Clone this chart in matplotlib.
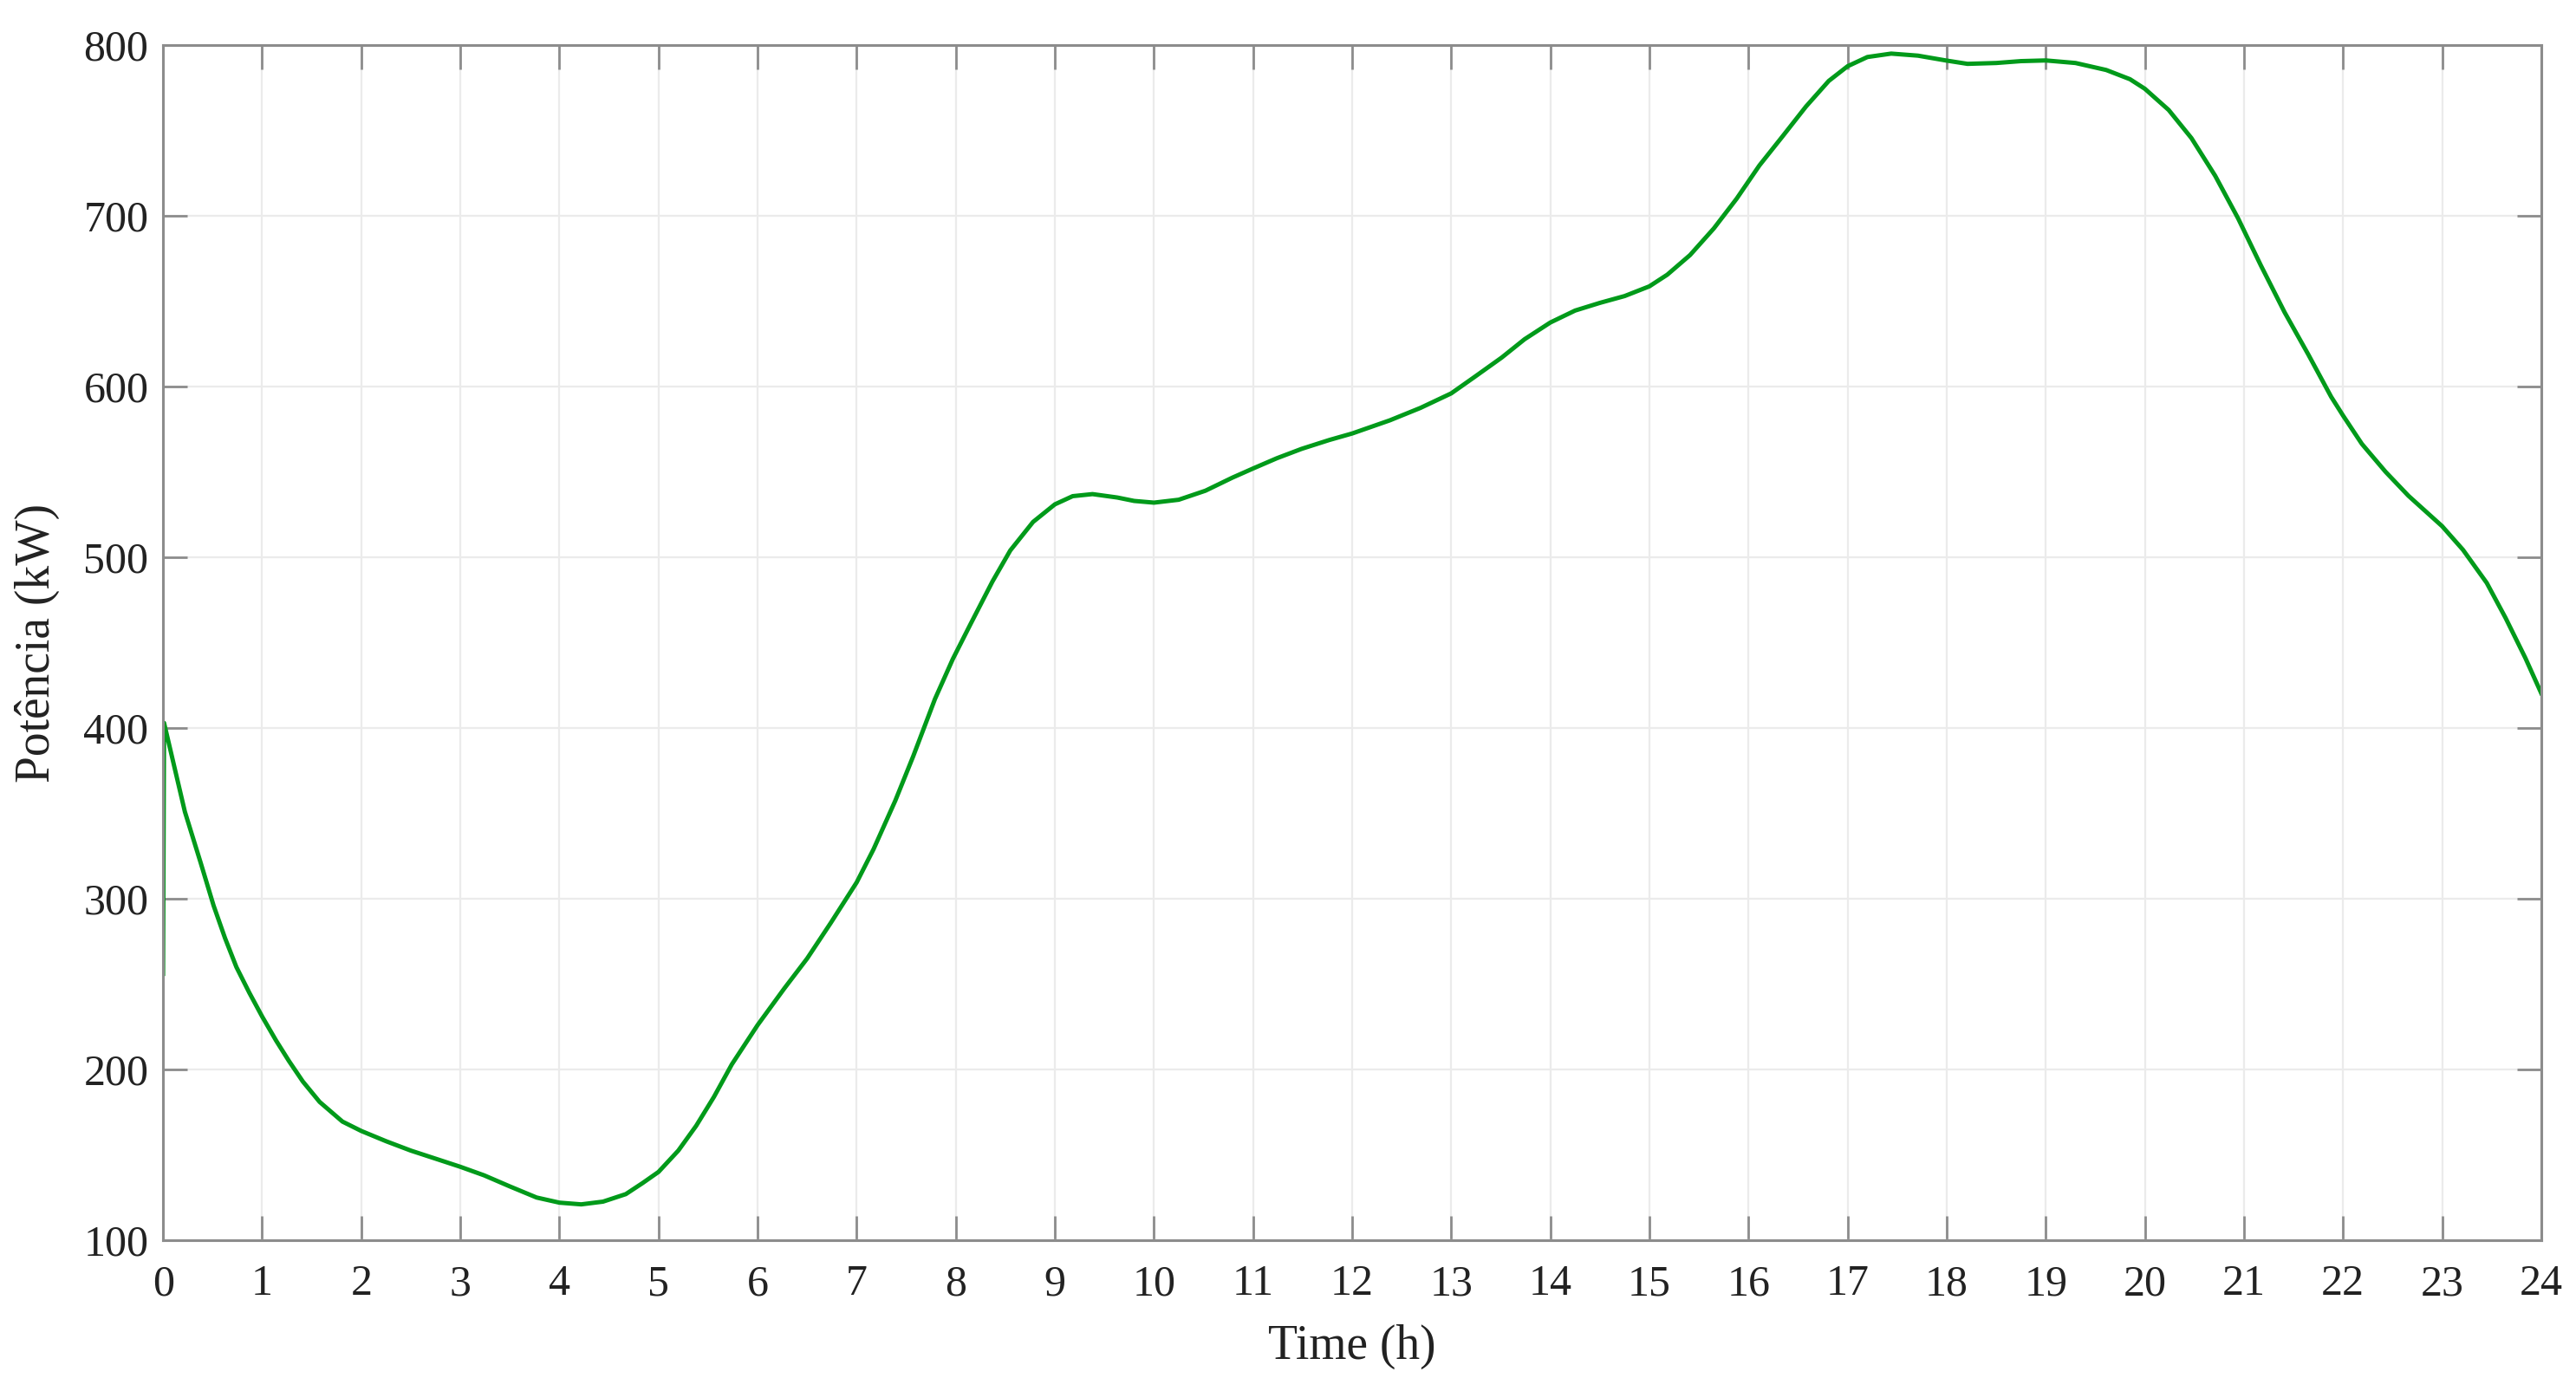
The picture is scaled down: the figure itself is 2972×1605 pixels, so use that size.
import numpy as np
from matplotlib import pyplot as plt

# load profile (hour, kW)
hours = [0, 0.01, 0.22, 0.38, 0.51, 0.625, 0.74, 0.87, 1.0, 1.14, 1.27, 1.41,
         1.58, 1.81, 2.0, 2.25, 2.5, 2.79, 3.0, 3.24, 3.5, 3.77, 4.0, 4.22,
         4.44, 4.67, 4.84, 5.0, 5.2, 5.38, 5.56, 5.74, 6.0, 6.27, 6.5, 6.74,
         7.0, 7.17, 7.39, 7.57, 7.79, 7.97, 8.15, 8.37, 8.55, 8.78, 9.0, 9.18,
         9.38, 9.63, 9.8, 10.0, 10.25, 10.52, 10.79, 11.0, 11.24, 11.49,
         11.77, 12.0, 12.38, 12.69, 13.0, 13.23, 13.51, 13.74, 14.0, 14.25,
         14.5, 14.75, 15.0, 15.18, 15.41, 15.65, 15.88, 16.11, 16.35, 16.58,
         16.81, 17.0, 17.2, 17.44, 17.71, 17.99, 18.21, 18.5, 18.75, 19.0,
         19.3, 19.61, 19.85, 20.0, 20.24, 20.47, 20.71, 20.94, 21.17, 21.41,
         21.65, 21.88, 22.0, 22.19, 22.43, 22.66, 23.0, 23.21, 23.45, 23.64,
         23.84, 24.0]
power = [256, 403, 351, 321, 296, 277, 260, 245, 231, 217, 205, 193,
         181, 169.5, 164, 158, 152.5, 147, 143, 138, 131.5, 125, 122, 121,
         122.6, 127, 133.5, 140, 152.5, 167, 184, 203, 226, 247.5, 265, 286,
         309.6, 329, 357.5, 383.4, 417, 440.4, 461, 485.8, 504, 520.7, 531,
         535.8, 537, 535, 533, 532, 533.7, 539, 546.6, 552, 558, 563.5,
         568.7, 572.5, 580.2, 587.5, 596, 605.4, 617, 627.7, 637.5, 644.5,
         649, 653, 658.7, 665.5, 677, 692.6, 710, 729.5, 747, 764,
         779, 787.6, 793, 795, 793.8, 791, 789, 789.5, 790.6, 791,
         789.5, 785.4, 780, 774.4, 762, 745.5, 723.4, 698.6, 671, 643.5,
         618.7, 594, 583, 566.4, 550, 536, 518.2, 504.4, 485, 464.5,
         441, 420.4]

xticks = np.arange(0, 25, 1)
yticks = np.arange(100, 801, 100)

plt.rcParams['font.family'] = ['Liberation Serif', 'DejaVu Serif']

fig = plt.figure(figsize=(14.86, 8.025), dpi=200)
ax = fig.add_axes([0.0633, 0.1084, 0.9232, 0.8592])

ax.plot(hours, power, color='#009a1a', linewidth=1.8,
        solid_joinstyle='round')

ax.set_xlim(0, 24)
ax.set_ylim(100, 800)
ax.set_xticks(xticks)
ax.set_yticks(yticks)
ax.grid(True, color='#ebebeb', linewidth=0.8)
ax.set_axisbelow(True)

for s in ax.spines.values():
    s.set_color('#8c8c8c')
    s.set_linewidth(1.1)
ax.tick_params(axis='both', direction='in', length=10, width=1.0,
               color='#8c8c8c', top=True, right=True, labelsize=18,
               labelcolor='#222222')
ax.tick_params(axis='x', pad=10)
ax.tick_params(axis='y', pad=6)

ax.set_xlabel('Time (h)', fontsize=20, color='#222222', labelpad=8)
ax.set_ylabel('Potência (kW)', fontsize=20, color='#222222', labelpad=10)

fig.savefig('out.png', dpi=200)
